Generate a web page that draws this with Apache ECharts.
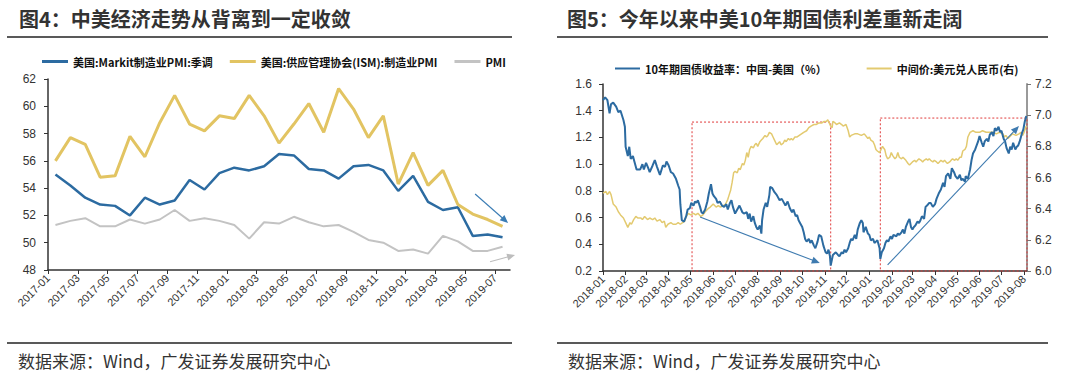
<!DOCTYPE html>
<html><head><meta charset="utf-8">
<script src="https://cdn.jsdelivr.net/npm/echarts@6/dist/echarts.min.js"></script>
<style>html,body{margin:0;padding:0;background:#fff}#c{width:1080px;height:378px}</style>
</head><body><div id="c"></div>
<script>
// ---------- Left panel data (monthly) ----------
const months = ['2017-01','2017-02','2017-03','2017-04','2017-05','2017-06','2017-07','2017-08','2017-09','2017-10','2017-11','2017-12',
  '2018-01','2018-02','2018-03','2018-04','2018-05','2018-06','2018-07','2018-08','2018-09','2018-10','2018-11','2018-12',
  '2019-01','2019-02','2019-03','2019-04','2019-05','2019-06','2019-07'];
const markitPMI = [55.0,54.2,53.3,52.8,52.7,52.0,53.3,52.8,53.1,54.6,53.9,55.1,55.5,55.3,55.6,56.5,56.4,55.4,55.3,54.7,55.6,55.7,55.3,53.8,54.9,53.0,52.4,52.6,50.5,50.6,50.4];
const ismPMI = [56.0,57.7,57.2,54.8,54.9,57.8,56.3,58.8,60.8,58.7,58.2,59.3,59.1,60.8,59.3,57.3,58.7,60.2,58.1,61.3,59.8,57.7,59.3,54.3,56.6,54.2,55.3,52.8,52.1,51.7,51.2];
const chinaPMI = [51.3,51.6,51.8,51.2,51.2,51.7,51.4,51.7,52.4,51.6,51.8,51.6,51.3,50.3,51.5,51.4,51.9,51.5,51.2,51.3,50.8,50.2,50.0,49.4,49.5,49.2,50.5,50.1,49.4,49.4,49.7];
const leftNames = ['美国:Markit制造业PMI:季调','美国:供应管理协会(ISM):制造业PMI','PMI'];

// ---------- Right panel data: [days since 2018-01-01, value] ----------
const spreadPoints = [[0,1.48],[3,1.50],[6,1.48],[9,1.38],[11,1.45],[14,1.46],[18,1.43],[21,1.39],[24,1.40],[28,1.33],[30,1.28],[31,1.13],[34,1.06],[36,1.13],[38,1.04],[41,1.06],[43,1.02],[46,0.96],[51,0.96],[54,1.00],[56,0.96],[59,1.01],[62,0.97],[64,0.94],[68,0.99],[71,1.03],[74,0.98],[78,0.92],[82,0.99],[85,0.98],[87,1.02],[90,0.99],[93,0.94],[96,0.93],[100,0.89],[103,0.84],[105,0.81],[106,0.70],[108,0.58],[111,0.57],[114,0.61],[116,0.66],[119,0.67],[121,0.71],[124,0.69],[126,0.72],[128,0.71],[130,0.73],[133,0.68],[135,0.64],[137,0.63],[140,0.66],[143,0.72],[145,0.78],[148,0.85],[150,0.78],[152,0.76],[155,0.74],[157,0.71],[160,0.72],[163,0.69],[166,0.68],[169,0.70],[171,0.66],[174,0.71],[176,0.73],[178,0.68],[181,0.63],[184,0.66],[187,0.69],[191,0.64],[193,0.63],[197,0.64],[199,0.59],[201,0.63],[203,0.57],[206,0.61],[208,0.56],[210,0.53],[212,0.51],[215,0.54],[217,0.48],[218,0.58],[220,0.66],[223,0.71],[225,0.68],[228,0.77],[229,0.83],[232,0.82],[235,0.79],[238,0.77],[242,0.73],[245,0.74],[248,0.71],[250,0.69],[253,0.72],[256,0.67],[259,0.64],[261,0.66],[264,0.61],[266,0.62],[268,0.58],[270,0.56],[273,0.53],[275,0.49],[277,0.44],[279,0.42],[282,0.44],[284,0.41],[286,0.43],[289,0.39],[291,0.37],[294,0.42],[296,0.47],[299,0.46],[302,0.39],[305,0.34],[307,0.33],[309,0.36],[311,0.31],[312,0.24],[315,0.32],[319,0.34],[322,0.32],[324,0.31],[327,0.34],[329,0.33],[331,0.36],[333,0.34],[336,0.37],[338,0.41],[340,0.44],[342,0.43],[345,0.47],[347,0.44],[349,0.51],[352,0.56],[354,0.58],[356,0.56],[357,0.49],[360,0.53],[363,0.48],[365,0.47],[367,0.43],[370,0.44],[372,0.41],[374,0.42],[376,0.43],[379,0.37],[380,0.29],[382,0.34],[385,0.37],[387,0.41],[389,0.43],[391,0.42],[394,0.46],[396,0.44],[398,0.47],[402,0.46],[404,0.48],[406,0.47],[409,0.49],[411,0.51],[413,0.48],[415,0.53],[418,0.57],[420,0.59],[422,0.53],[424,0.51],[426,0.53],[428,0.54],[431,0.57],[433,0.56],[435,0.58],[437,0.61],[440,0.59],[442,0.68],[444,0.69],[447,0.71],[449,0.71],[452,0.68],[455,0.70],[457,0.74],[460,0.78],[463,0.81],[466,0.86],[468,0.83],[470,0.91],[473,0.93],[476,0.89],[478,0.97],[481,0.94],[483,0.91],[486,0.89],[489,0.92],[491,0.88],[493,0.89],[496,0.87],[497,0.91],[500,0.89],[503,0.96],[505,1.03],[507,1.08],[510,1.11],[512,1.14],[514,1.17],[516,1.21],[519,1.16],[521,1.13],[523,1.17],[526,1.19],[528,1.17],[530,1.22],[533,1.24],[535,1.21],[537,1.27],[539,1.25],[542,1.28],[544,1.24],[546,1.25],[549,1.19],[551,1.17],[553,1.12],[556,1.08],[558,1.13],[560,1.11],[562,1.16],[565,1.11],[567,1.13],[569,1.14],[571,1.17],[574,1.23],[576,1.26],[578,1.32],[580,1.36]];
const usdcnyPoints = [[0,6.50],[4,6.51],[6,6.49],[9,6.51],[11,6.49],[14,6.43],[18,6.41],[21,6.38],[24,6.36],[28,6.34],[31,6.31],[34,6.28],[37,6.31],[39,6.30],[42,6.33],[45,6.35],[48,6.34],[52,6.34],[54,6.33],[57,6.35],[61,6.33],[64,6.34],[68,6.33],[71,6.34],[74,6.32],[78,6.33],[81,6.31],[84,6.32],[86,6.28],[89,6.30],[93,6.31],[96,6.30],[100,6.30],[103,6.31],[106,6.30],[109,6.31],[112,6.32],[114,6.35],[117,6.37],[120,6.36],[124,6.37],[127,6.36],[130,6.37],[134,6.35],[137,6.36],[140,6.38],[144,6.40],[147,6.41],[151,6.43],[155,6.41],[158,6.42],[161,6.41],[165,6.42],[168,6.43],[171,6.46],[173,6.49],[175,6.52],[177,6.57],[179,6.63],[181,6.64],[184,6.63],[186,6.66],[188,6.65],[191,6.69],[193,6.68],[195,6.71],[197,6.76],[199,6.73],[201,6.78],[203,6.80],[206,6.79],[208,6.81],[210,6.82],[212,6.80],[215,6.83],[217,6.84],[219,6.85],[222,6.87],[224,6.86],[226,6.87],[228,6.89],[231,6.88],[233,6.86],[235,6.84],[238,6.81],[240,6.82],[242,6.83],[244,6.81],[247,6.82],[249,6.84],[251,6.83],[254,6.85],[256,6.84],[258,6.85],[260,6.84],[263,6.86],[266,6.86],[269,6.87],[272,6.88],[275,6.89],[279,6.90],[282,6.92],[285,6.93],[289,6.94],[292,6.94],[296,6.95],[300,6.95],[303,6.96],[306,6.96],[308,6.97],[310,6.95],[312,6.93],[314,6.92],[315,6.96],[318,6.95],[320,6.94],[324,6.95],[327,6.94],[329,6.93],[333,6.94],[336,6.90],[338,6.86],[340,6.87],[345,6.88],[349,6.88],[354,6.87],[358,6.88],[363,6.85],[365,6.86],[367,6.84],[370,6.83],[372,6.81],[374,6.78],[376,6.77],[379,6.76],[381,6.78],[383,6.80],[386,6.78],[388,6.74],[390,6.72],[393,6.73],[395,6.76],[397,6.74],[400,6.72],[402,6.73],[404,6.76],[406,6.73],[409,6.72],[411,6.73],[413,6.72],[415,6.71],[418,6.69],[420,6.68],[422,6.69],[424,6.70],[427,6.71],[429,6.70],[431,6.71],[433,6.72],[436,6.71],[438,6.70],[440,6.71],[443,6.72],[445,6.71],[447,6.72],[449,6.71],[452,6.70],[454,6.71],[457,6.70],[459,6.69],[461,6.70],[463,6.71],[466,6.70],[468,6.71],[470,6.70],[472,6.69],[475,6.70],[477,6.71],[479,6.72],[482,6.71],[484,6.72],[486,6.71],[489,6.73],[491,6.73],[493,6.77],[496,6.78],[498,6.80],[500,6.86],[503,6.89],[507,6.90],[511,6.89],[516,6.89],[520,6.90],[525,6.89],[530,6.89],[534,6.89],[539,6.88],[543,6.89],[548,6.88],[550,6.86],[552,6.87],[555,6.85],[557,6.86],[561,6.88],[566,6.87],[570,6.88],[573,6.89],[575,6.87],[577,6.89],[580,6.93]];
const monthTicks = ['2018-01','2018-02','2018-03','2018-04','2018-05','2018-06','2018-07','2018-08','2018-09','2018-10','2018-11','2018-12','2019-01','2019-02','2019-03','2019-04','2019-05','2019-06','2019-07','2019-08'];
const rightNames = ['10年期国债收益率：中国-美国（%）','中间价:美元兑人民币(右)'];
// annotation boxes [startDay, endDay, topValue] and arrows (data units)
const boxes = [[122, 312, 1.315], [380, 581, 1.345]];
const leftArrows = [{from:[28.66,53.57], to:[30.87,51.45], color:'#3a7cb4'}, {from:[29.66,48.6], to:[31.34,49.1], color:'#bdbdbd'}];
const rightArrows = [{from:[133,0.604], to:[297,0.26], color:'#3f7bb0'}, {from:[390,0.245], to:[570,1.285], color:'#3f7bb0'}];

// day offsets of the month-start ticks, from the tick labels
const DAY = 86400000, BASE = Date.UTC(2018, 0, 1);
const monthDays = monthTicks.map(s => { const p = s.split('-'); return Math.round((Date.UTC(+p[0], +p[1] - 1, 1) - BASE) / DAY); });
const dayLabel = v => { const i = monthDays.indexOf(Math.round(v)); return i >= 0 ? monthTicks[i] : ''; };

const BLUE = '#2c6ba1', YEL = '#e2c462', GRAY = '#c3c3c3', AX = '#333';
const FONT = '"Liberation Sans", Arial, "Noto Sans CJK SC", sans-serif';
const CJK = '"Noto Sans CJK SC", "Liberation Sans", sans-serif';

const staticGraphic = [
  {id:'l1', type:'line', shape:{x1:7,y1:37,x2:512,y2:37}, style:{stroke:'#222', lineWidth:1.5}},
  {id:'l2', type:'line', shape:{x1:557,y1:37,x2:1048,y2:37}, style:{stroke:'#222', lineWidth:1.5}},
  {id:'l3', type:'line', shape:{x1:7,y1:343,x2:512,y2:343}, style:{stroke:'#222', lineWidth:1.5}},
  {id:'l4', type:'line', shape:{x1:557,y1:343,x2:1048,y2:343}, style:{stroke:'#222', lineWidth:1.5}}
];

const chart = echarts.init(document.getElementById('c'), null, {renderer:'svg'});
const option = {
  animation: false,
  backgroundColor: '#fff',
  textStyle: {fontFamily: FONT},
  title: [
    {text:'图4：中美经济走势从背离到一定收敛', left:19, top:8, padding:0, textStyle:{fontSize:20, fontWeight:'bold', color:'#333', fontFamily:CJK}},
    {text:'图5：今年以来中美10年期国债利差重新走阔', left:567, top:8, padding:0, textStyle:{fontSize:20, fontWeight:'bold', color:'#333', fontFamily:CJK}},
    {text:'数据来源：Wind，广发证券发展研究中心', left:18, top:352, padding:0, textStyle:{fontSize:17, fontWeight:'normal', color:'#333', fontFamily:CJK}},
    {text:'数据来源：Wind，广发证券发展研究中心', left:568, top:352, padding:0, textStyle:{fontSize:17, fontWeight:'normal', color:'#333', fontFamily:CJK}}
  ],
  legend: [
    {data:leftNames, left:42, top:56, padding:0, itemGap:17, itemWidth:26, itemHeight:3, icon:'rect',
     textStyle:{fontSize:11, fontWeight:'bold', color:'#111', fontFamily:CJK}},
    {data:rightNames, left:615, top:63, padding:0, itemGap:40, itemWidth:25, itemHeight:2, icon:'rect',
     textStyle:{fontSize:11, fontWeight:'bold', color:'#111', fontFamily:CJK}}
  ],
  grid: [
    {left:48, right:570, top:79, bottom:108},
    {left:603, right:53, top:84, bottom:107}
  ],
  xAxis: [
    {type:'value', gridIndex:0, min:0, max:31, interval:2,
     axisLine:{show:true, lineStyle:{color:AX, width:1.5}},
     axisTick:{show:true, length:4, lineStyle:{color:AX}},
     axisLabel:{rotate:45, fontSize:11, color:'#333', margin:6, showMaxLabel:false,
       formatter: v => months[v] || ''},
     splitLine:{show:false}},
    {type:'value', gridIndex:1, min:0, max:581,
     axisLine:{show:true, lineStyle:{color:AX, width:1.5}},
     axisTick:{show:true, length:4, lineStyle:{color:AX}, customValues:monthDays},
     axisLabel:{rotate:45, fontSize:11, color:'#333', margin:6, customValues:monthDays, formatter: v => dayLabel(v)},
     splitLine:{show:false}}
  ],
  yAxis: [
    {type:'value', gridIndex:0, min:48, max:62, interval:2,
     axisLine:{show:true, lineStyle:{color:AX, width:1.5}},
     axisTick:{show:true, length:4, lineStyle:{color:AX}},
     axisLabel:{fontSize:12, color:'#333', margin:12},
     splitLine:{show:false}},
    {type:'value', gridIndex:1, min:0.2, max:1.6, interval:0.2,
     axisLine:{show:true, lineStyle:{color:AX, width:1.5}},
     axisTick:{show:true, length:4, lineStyle:{color:AX}},
     axisLabel:{fontSize:12, color:'#333', margin:11, formatter: v => v.toFixed(1)},
     splitLine:{show:false}},
    {type:'value', gridIndex:1, position:'right', min:6.0, max:7.2, interval:0.2,
     axisLine:{show:true, lineStyle:{color:'#9a9a9a', width:2}},
     axisTick:{show:true, length:4, lineStyle:{color:'#777'}},
     axisLabel:{fontSize:12, color:'#333', margin:8, formatter: v => v.toFixed(1)},
     splitLine:{show:false}}
  ],
  series: [
    {name:leftNames[0], type:'line', xAxisIndex:0, yAxisIndex:0, symbol:'none', color:BLUE,
     lineStyle:{width:2.5, color:BLUE}, data: markitPMI.map((v, i) => [i + 0.5, v])},
    {name:leftNames[1], type:'line', xAxisIndex:0, yAxisIndex:0, symbol:'none', color:YEL,
     lineStyle:{width:3, color:YEL}, data: ismPMI.map((v, i) => [i + 0.5, v])},
    {name:leftNames[2], type:'line', xAxisIndex:0, yAxisIndex:0, symbol:'none', color:GRAY,
     lineStyle:{width:2, color:GRAY}, data: chinaPMI.map((v, i) => [i + 0.5, v])},
    {name:rightNames[1], type:'line', xAxisIndex:1, yAxisIndex:2, symbol:'none', color:'#e3ca70',
     lineStyle:{width:1.5, color:'#e3ca70'}, data: usdcnyPoints},
    {name:rightNames[0], type:'line', xAxisIndex:1, yAxisIndex:1, symbol:'none', color:BLUE,
     lineStyle:{width:2, color:BLUE}, data: spreadPoints,
     markArea:{silent:true, label:{show:false},
       itemStyle:{color:'rgba(0,0,0,0)', borderColor:'#e03a3a', borderWidth:1, borderType:[2,2]},
       data: boxes.map(b => [{coord:[b[0], b[2]]}, {coord:[b[1], 0.2]}])}}
  ]
};
chart.setOption(option);

function arrowEls(list, finder, prefix) {
  const els = [];
  list.forEach((a, k) => {
    const p0 = chart.convertToPixel(finder, a.from);
    const p1 = chart.convertToPixel(finder, a.to);
    const dx = p1[0] - p0[0], dy = p1[1] - p0[1];
    const len = Math.sqrt(dx * dx + dy * dy);
    const ux = dx / len, uy = dy / len, nx = -uy, ny = ux;
    const L = 8, W = 3.5;
    const bx = p1[0] - ux * L, by = p1[1] - uy * L;
    els.push({id: prefix + 'l' + k, type:'line', shape:{x1:p0[0], y1:p0[1], x2:bx + ux * 2, y2:by + uy * 2},
      style:{stroke:a.color, lineWidth:1.1}, z:50});
    els.push({id: prefix + 'h' + k, type:'polygon', shape:{points:[[p1[0], p1[1]], [bx + nx * W, by + ny * W], [bx - nx * W, by - ny * W]]},
      style:{fill:a.color}, z:50});
  });
  return els;
}
const arrowsL = arrowEls(leftArrows, {xAxisIndex:0, yAxisIndex:0}, 'al');
const arrowsR = arrowEls(rightArrows, {xAxisIndex:1, yAxisIndex:1}, 'ar');
chart.setOption({graphic: staticGraphic.concat(arrowsL, arrowsR)});
</script></body></html>
